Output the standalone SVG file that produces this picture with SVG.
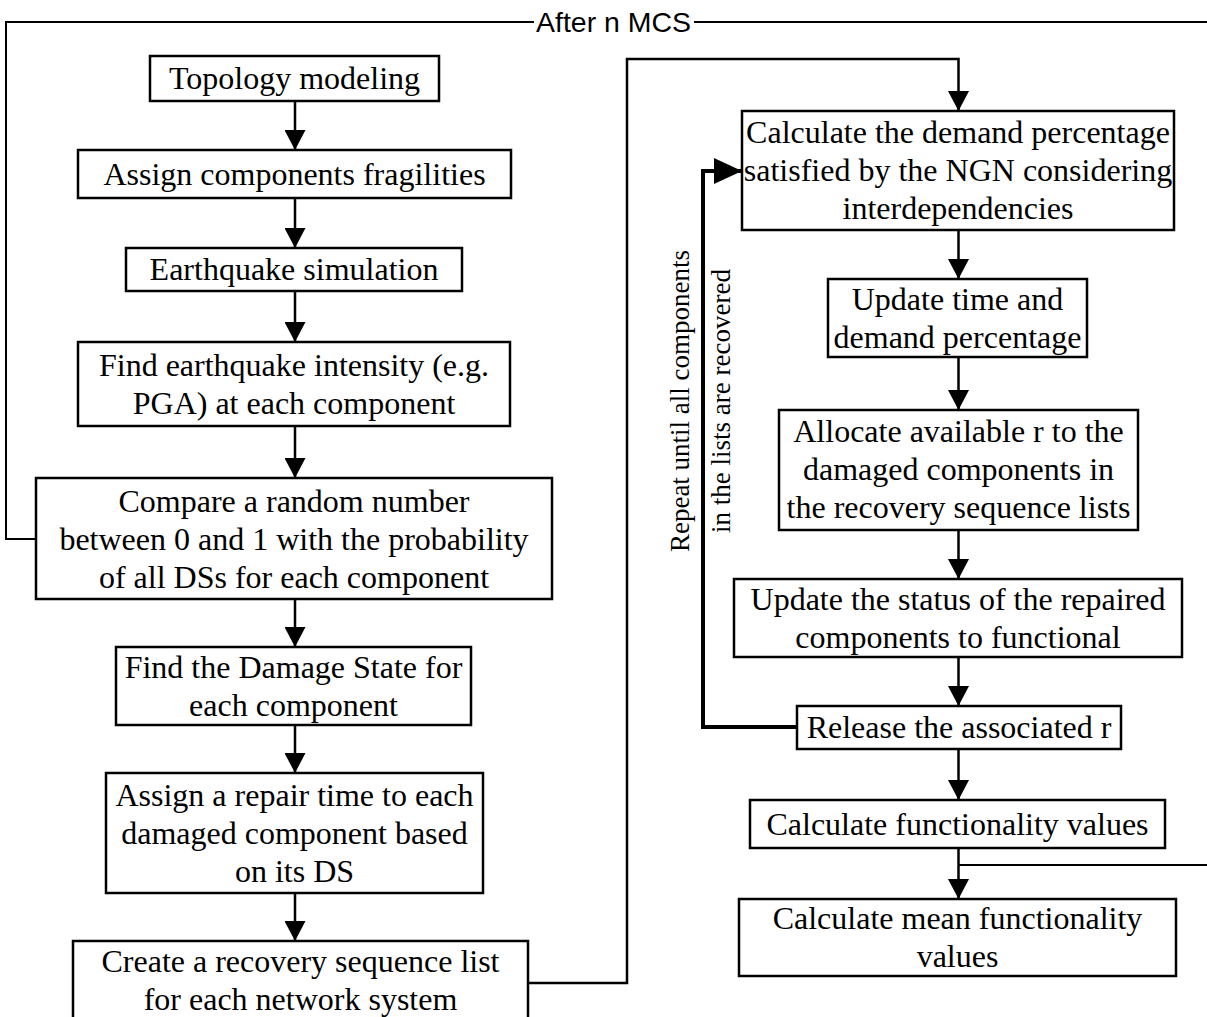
<svg xmlns="http://www.w3.org/2000/svg" width="1207" height="1017" viewBox="0 0 1207 1017">
  <style>
    .box { fill: #ffffff; stroke: #000000; stroke-width: 2.5; }
    .lbl { font-family: "Liberation Serif", "Times New Roman", serif; font-size: 32px; fill: #000000; text-anchor: middle; }
    .vlbl { font-family: "Liberation Serif", "Times New Roman", serif; font-size: 27px; fill: #000000; text-anchor: middle; }
    .mcs { font-family: "Liberation Sans", Arial, sans-serif; font-size: 28px; fill: #000000; }
    .flow { fill: none; stroke: #000000; stroke-width: 2.5; }
    .thin { fill: none; stroke: #000000; stroke-width: 2; }
    .thick { fill: none; stroke: #000000; stroke-width: 4; }
  </style>
  <defs>
    <marker id="arrow" viewBox="0 0 20 21" refX="20" refY="10.5" markerWidth="20" markerHeight="21" markerUnits="userSpaceOnUse" orient="auto">
      <path d="M0,0 L20,10.5 L0,21 Z" fill="#000000"/>
    </marker>
    <marker id="arrowBig" viewBox="0 0 28 26" refX="28" refY="13" markerWidth="28" markerHeight="26" markerUnits="userSpaceOnUse" orient="auto">
      <path d="M0,0 L28,13 L0,26 Z" fill="#000000"/>
    </marker>
  </defs>
  <rect width="1207" height="1017" fill="#ffffff"/>

  <!-- connectors -->
  <g id="connectors">
    <!-- left column -->
    <line class="flow" x1="295" y1="101" x2="295" y2="150" marker-end="url(#arrow)"/>
    <line class="flow" x1="295" y1="198" x2="295" y2="248" marker-end="url(#arrow)"/>
    <line class="flow" x1="295" y1="291" x2="295" y2="342" marker-end="url(#arrow)"/>
    <line class="flow" x1="295" y1="426" x2="295" y2="478" marker-end="url(#arrow)"/>
    <line class="flow" x1="295" y1="599" x2="295" y2="647" marker-end="url(#arrow)"/>
    <line class="flow" x1="295" y1="725" x2="295" y2="773" marker-end="url(#arrow)"/>
    <line class="flow" x1="295" y1="893" x2="295" y2="941" marker-end="url(#arrow)"/>
    <!-- left column to right column -->
    <polyline class="flow" points="528,983 627,983 627,59 958.5,59 958.5,111" marker-end="url(#arrow)"/>
    <!-- right column -->
    <line class="flow" x1="958.5" y1="230" x2="958.5" y2="279" marker-end="url(#arrow)"/>
    <line class="flow" x1="958.5" y1="357" x2="958.5" y2="410" marker-end="url(#arrow)"/>
    <line class="flow" x1="958.5" y1="530" x2="958.5" y2="579" marker-end="url(#arrow)"/>
    <line class="flow" x1="958.5" y1="657" x2="958.5" y2="706" marker-end="url(#arrow)"/>
    <line class="flow" x1="958.5" y1="749" x2="958.5" y2="800" marker-end="url(#arrow)"/>
    <line class="flow" x1="958.5" y1="848" x2="958.5" y2="899" marker-end="url(#arrow)"/>
    <!-- repair loop -->
    <polyline class="thick" points="797,727 703,727 703,171 742,171" marker-end="url(#arrowBig)"/>
    <text class="vlbl" transform="translate(689,401) rotate(-90)">Repeat until all components</text>
    <text class="vlbl" transform="translate(730,401) rotate(-90)">in the lists are recovered</text>
    <!-- Monte Carlo loop -->
    <polyline class="thin" points="36,539 6,539 6,22 534,22"/>
    <line class="thin" x1="694" y1="22" x2="1207" y2="22"/>
    <line class="thin" x1="958.5" y1="865" x2="1207" y2="865"/>
    <text class="mcs" x="536" y="32" textLength="155" lengthAdjust="spacingAndGlyphs">After n MCS</text>
  </g>

  <!-- left column nodes -->
  <g id="topology">
    <rect class="box" x="150" y="56" width="289" height="45"/>
    <text class="lbl" x="294.5" y="89">Topology modeling</text>
  </g>
  <g id="fragilities">
    <rect class="box" x="78" y="150" width="433" height="48"/>
    <text class="lbl" x="294.5" y="185">Assign components fragilities</text>
  </g>
  <g id="earthquake">
    <rect class="box" x="126" y="248" width="336" height="43"/>
    <text class="lbl" x="294" y="280">Earthquake simulation</text>
  </g>
  <g id="intensity">
    <rect class="box" x="78" y="342" width="432" height="84"/>
    <text class="lbl" x="294" y="376">Find earthquake intensity (e.g.</text>
    <text class="lbl" x="294" y="414">PGA) at each component</text>
  </g>
  <g id="compare">
    <rect class="box" x="36" y="478" width="516" height="121"/>
    <text class="lbl" x="294" y="512">Compare a random number</text>
    <text class="lbl" x="294" y="550">between 0 and 1 with the probability</text>
    <text class="lbl" x="294" y="588">of all DSs for each component</text>
  </g>
  <g id="damage-state">
    <rect class="box" x="116" y="647" width="355" height="78"/>
    <text class="lbl" x="293.5" y="678">Find the Damage State for</text>
    <text class="lbl" x="293.5" y="716">each component</text>
  </g>
  <g id="repair-time">
    <rect class="box" x="106" y="773" width="377" height="120"/>
    <text class="lbl" x="294.5" y="806">Assign a repair time to each</text>
    <text class="lbl" x="294.5" y="844">damaged component based</text>
    <text class="lbl" x="294.5" y="882">on its DS</text>
  </g>
  <g id="sequence-list">
    <rect class="box" x="73" y="941" width="455" height="80"/>
    <text class="lbl" x="300.5" y="972">Create a recovery sequence list</text>
    <text class="lbl" x="300.5" y="1010">for each network system</text>
  </g>

  <!-- right column nodes -->
  <g id="demand">
    <rect class="box" x="742" y="111" width="432" height="119"/>
    <text class="lbl" x="958" y="143">Calculate the demand percentage</text>
    <text class="lbl" x="958" y="181">satisfied by the NGN considering</text>
    <text class="lbl" x="958" y="219">interdependencies</text>
  </g>
  <g id="update-time">
    <rect class="box" x="828" y="279" width="259" height="78"/>
    <text class="lbl" x="957.5" y="310">Update time and</text>
    <text class="lbl" x="957.5" y="348">demand percentage</text>
  </g>
  <g id="allocate">
    <rect class="box" x="779" y="410" width="359" height="120"/>
    <text class="lbl" x="958.5" y="442">Allocate available r to the</text>
    <text class="lbl" x="958.5" y="480">damaged components in</text>
    <text class="lbl" x="958.5" y="518">the recovery sequence lists</text>
  </g>
  <g id="update-status">
    <rect class="box" x="734" y="579" width="448" height="78"/>
    <text class="lbl" x="958" y="610">Update the status of the repaired</text>
    <text class="lbl" x="958" y="648">components to functional</text>
  </g>
  <g id="release">
    <rect class="box" x="797" y="706" width="324" height="43"/>
    <text class="lbl" x="959" y="738">Release the associated r</text>
  </g>
  <g id="functionality">
    <rect class="box" x="750" y="800" width="415" height="48"/>
    <text class="lbl" x="957.5" y="835">Calculate functionality values</text>
  </g>
  <g id="mean-functionality">
    <rect class="box" x="739" y="899" width="437" height="77"/>
    <text class="lbl" x="957.5" y="929">Calculate mean functionality</text>
    <text class="lbl" x="957.5" y="967">values</text>
  </g>
</svg>
